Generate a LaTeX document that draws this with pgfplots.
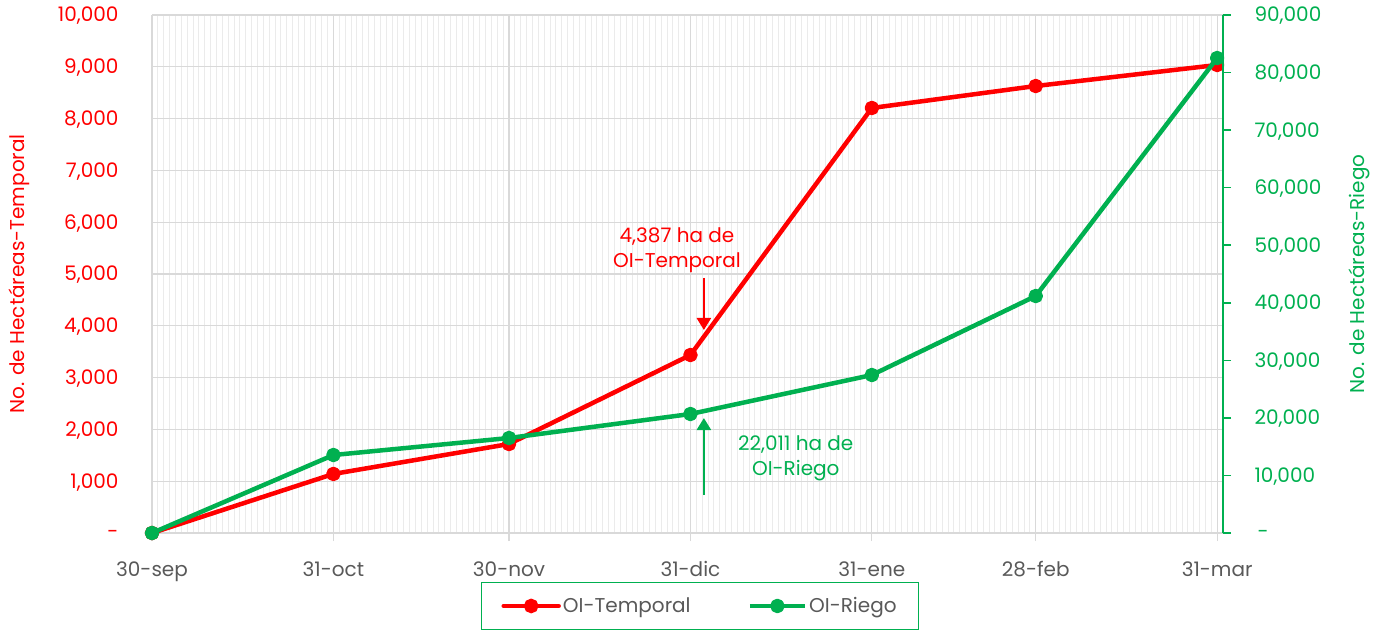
\documentclass[border=0pt]{standalone}
\usepackage{fontspec}
\setmainfont{Poppins}
\usepackage{pgfplots}
\usepackage{pgfplotstable}
\pgfplotsset{compat=1.18}
\usetikzlibrary{calc,arrows.meta}
\definecolor{cRed}{HTML}{FF0000}
\definecolor{cGreen}{HTML}{00B050}
\definecolor{cGrid}{HTML}{D9D9D9}
\definecolor{cMinor}{HTML}{EBEBEB}
\definecolor{cText}{HTML}{595959}

\pgfplotstableread{
x y
0 0
31 1140
61 1718
92 3436
123 8205
151 8629
182 9035
}\temporal
\pgfplotstableread{
x y
0 0
31 13551
61 16505
92 20674
123 27450
151 41175
182 82523
}\riego

\pgfplotsset{
  legend image code/.code={
    \draw[mark repeat=2, mark phase=2, #1] plot coordinates {(0pt,0pt) (27.5pt,0pt) (55pt,0pt)};
  },
}

\begin{document}
\begin{tikzpicture}[font=\fontsize{20}{25}\selectfont]
\begin{axis}[name=ax, scale only axis, width=1071pt, height=518pt,
  xmin=0, xmax=183, ymin=0, ymax=10000,
  scaled ticks=false,
  axis x line*=bottom, axis y line*=left,
  y axis line style={draw=none},
  x axis line style={draw=cGrid, line width=1.5pt, -},
  xtick={0,31,61,92,123,151,182},
  xticklabels={30-sep,31-oct,30-nov,31-dic,31-ene,28-feb,31-mar},
  minor xtick={0,1,...,183},
  ytick={0,1000,...,10000},
  yticklabels={{-\hspace{13pt}},{1,000},{2,000},{3,000},{4,000},{5,000},{6,000},{7,000},{8,000},{9,000},{10,000}},
  grid=both,
  major grid style={draw=cGrid, line width=1.2pt},
  minor grid style={draw=cMinor, line width=0.8pt},
  tick align=outside,
  major tick length=8pt, minor tick length=0pt,
  xtick style={draw=cGrid, line width=1.2pt},
  ytick style={draw=none},
  xticklabel style={text=cText, yshift=-17pt},
  yticklabel style={text=cRed, xshift=-22pt, yshift=-1pt},
  ylabel={No. de Hectáreas-Temporal},
  ylabel style={text=cRed, at={(axis description cs:-0.124,0.5)}, anchor=center},
  clip=false,
]
\addplot[cRed, line width=4.5pt, line join=round, mark=*, mark size=5pt, mark options={solid}] table[x=x,y=y] {\temporal};
\node[text=cRed, align=center] at (axis cs:89.7,5463) {4,387 ha de\\OI-Temporal};
\draw[cRed, line width=2.5pt, -{Triangle[length=12pt,width=14pt]}] (axis cs:94.3,4923) -- (axis cs:94.3,3919);
\end{axis}
\begin{axis}[scale only axis, width=1071pt, height=518pt,
  xmin=0, xmax=183, ymin=0, ymax=90000,
  scaled ticks=false,
  axis x line=none, axis y line*=right,
  y axis line style={draw=cGreen, line width=1.5pt, -},
  ytick={0,10000,...,90000},
  yticklabels={{\hspace{3pt}-},{10,000},{20,000},{30,000},{40,000},{50,000},{60,000},{70,000},{80,000},{90,000}},
  tick align=outside, major tick length=8pt,
  ytick style={draw=cGreen, line width=1.5pt},
  yticklabel style={text=cGreen, xshift=20pt, yshift=-1pt},
  ylabel={No. de Hectáreas-Riego},
  ylabel style={text=cGreen, at={(axis description cs:1.127,0.5)}, anchor=center},
  clip=false,
  legend columns=2,
  legend style={at={(axis description cs:0.5117,-0.0946)}, anchor=north, draw=cGreen, line width=1.2pt,
    text=cText, inner xsep=20pt, inner ysep=13pt,
    /tikz/every even column/.append style={column sep=55pt}},
]
\addlegendimage{cRed, line width=4.5pt, line cap=round, mark=*, mark size=5pt, mark options={solid}}
\addlegendentry{OI-Temporal}
\addplot[cGreen, line width=4.5pt, line join=round, mark=*, mark size=5pt, mark options={solid}] table[x=x,y=y] {\riego};
\addlegendentry{OI-Riego}
\node[text=cGreen, align=center] at (axis cs:110.0,12943) {22,011 ha de\\OI-Riego};
\draw[cGreen, line width=2.5pt, -{Triangle[length=12pt,width=14pt]}] (axis cs:94.3,6602) -- (axis cs:94.3,19979);
\end{axis}
\pgfresetboundingbox
\path ($(ax.south west)+(-152pt,-96pt)$) rectangle ($(ax.north east)+(156pt,15pt)$);
\end{tikzpicture}
\end{document}
